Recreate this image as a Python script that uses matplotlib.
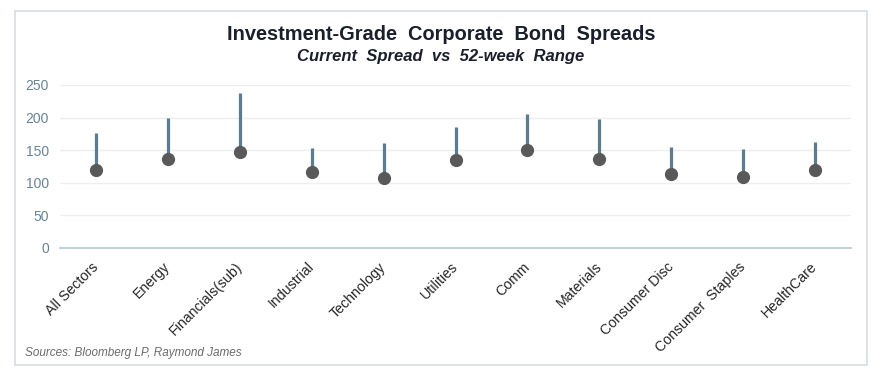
import numpy as np
import matplotlib
matplotlib.use("Agg")
import matplotlib.pyplot as plt
from matplotlib.patches import Rectangle

plt.rcParams["font.family"] = ["Liberation Sans", "DejaVu Sans"]

# Data
sectors = ["All Sectors", "Energy", "Financials(sub)", "Industrial", "Technology",
           "Utilities", "Comm", "Materials", "Consumer Disc", "Consumer  Staples",
           "HealthCare"]
current_spread = [120, 137, 148, 116, 107, 135, 150, 136, 114, 109, 120]
high_52wk = [177, 199, 238, 153, 161, 185, 205, 198, 155, 152, 163]
y_ticks = [0, 50, 100, 150, 200, 250]

LINE_COLOR = "#5b7d8d"
DOT_COLOR = "#595959"

fig = plt.figure(figsize=(8.82, 3.76), dpi=100)
# outer frame
fig.patches.append(Rectangle((15 / 882, 1 - 365 / 376), 852 / 882, 354 / 376,
                             transform=fig.transFigure, fill=False,
                             edgecolor="#d5dde2", linewidth=1.2))

ax = fig.add_axes([60 / 882, 1 - 248 / 376, 791 / 882, 163 / 376])
x = np.arange(len(sectors))

ax.vlines(x, current_spread, high_52wk, color=LINE_COLOR, linewidth=2.3, zorder=3)
ax.plot(x, current_spread, "o", color=DOT_COLOR, markersize=8.5, zorder=4)

ax.set_xlim(-0.5, len(sectors) - 0.5)
ax.set_ylim(0, 250)
ax.set_yticks(y_ticks)
ax.set_xticks(x)
ax.set_xticklabels(sectors, rotation=45, ha="right", va="center",
                   rotation_mode="anchor", fontsize=10.2, color="#262626")
ax.tick_params(axis="x", length=0, pad=12)
ax.tick_params(axis="y", length=0, pad=8, labelsize=10, labelcolor="#65849a")
ax.grid(axis="y", color="#efefef", linewidth=1)
ax.set_axisbelow(True)
for s in ["top", "right", "left"]:
    ax.spines[s].set_visible(False)
ax.spines["bottom"].set_color("#b3c6d1")
ax.spines["bottom"].set_linewidth(1.2)
ax.spines["bottom"].set_zorder(2)

fig.text(441 / 882, 1 - 35 / 376, "Investment-Grade  Corporate  Bond  Spreads",
         ha="center", va="center", fontsize=14.4, fontweight="bold", color="#1a1f2b")
fig.text(441 / 882, 1 - 57 / 376, "Current  Spread  vs  52-week  Range",
         ha="center", va="center", fontsize=12, fontweight="bold", style="italic",
         color="#1a1f2b")
fig.text(25 / 882, 1 - 353 / 376, "Sources: Bloomberg LP, Raymond James",
         ha="left", va="center", fontsize=8.5, style="italic", color="#6b6b6b")

fig.savefig("out.png", dpi=100, facecolor="white")
